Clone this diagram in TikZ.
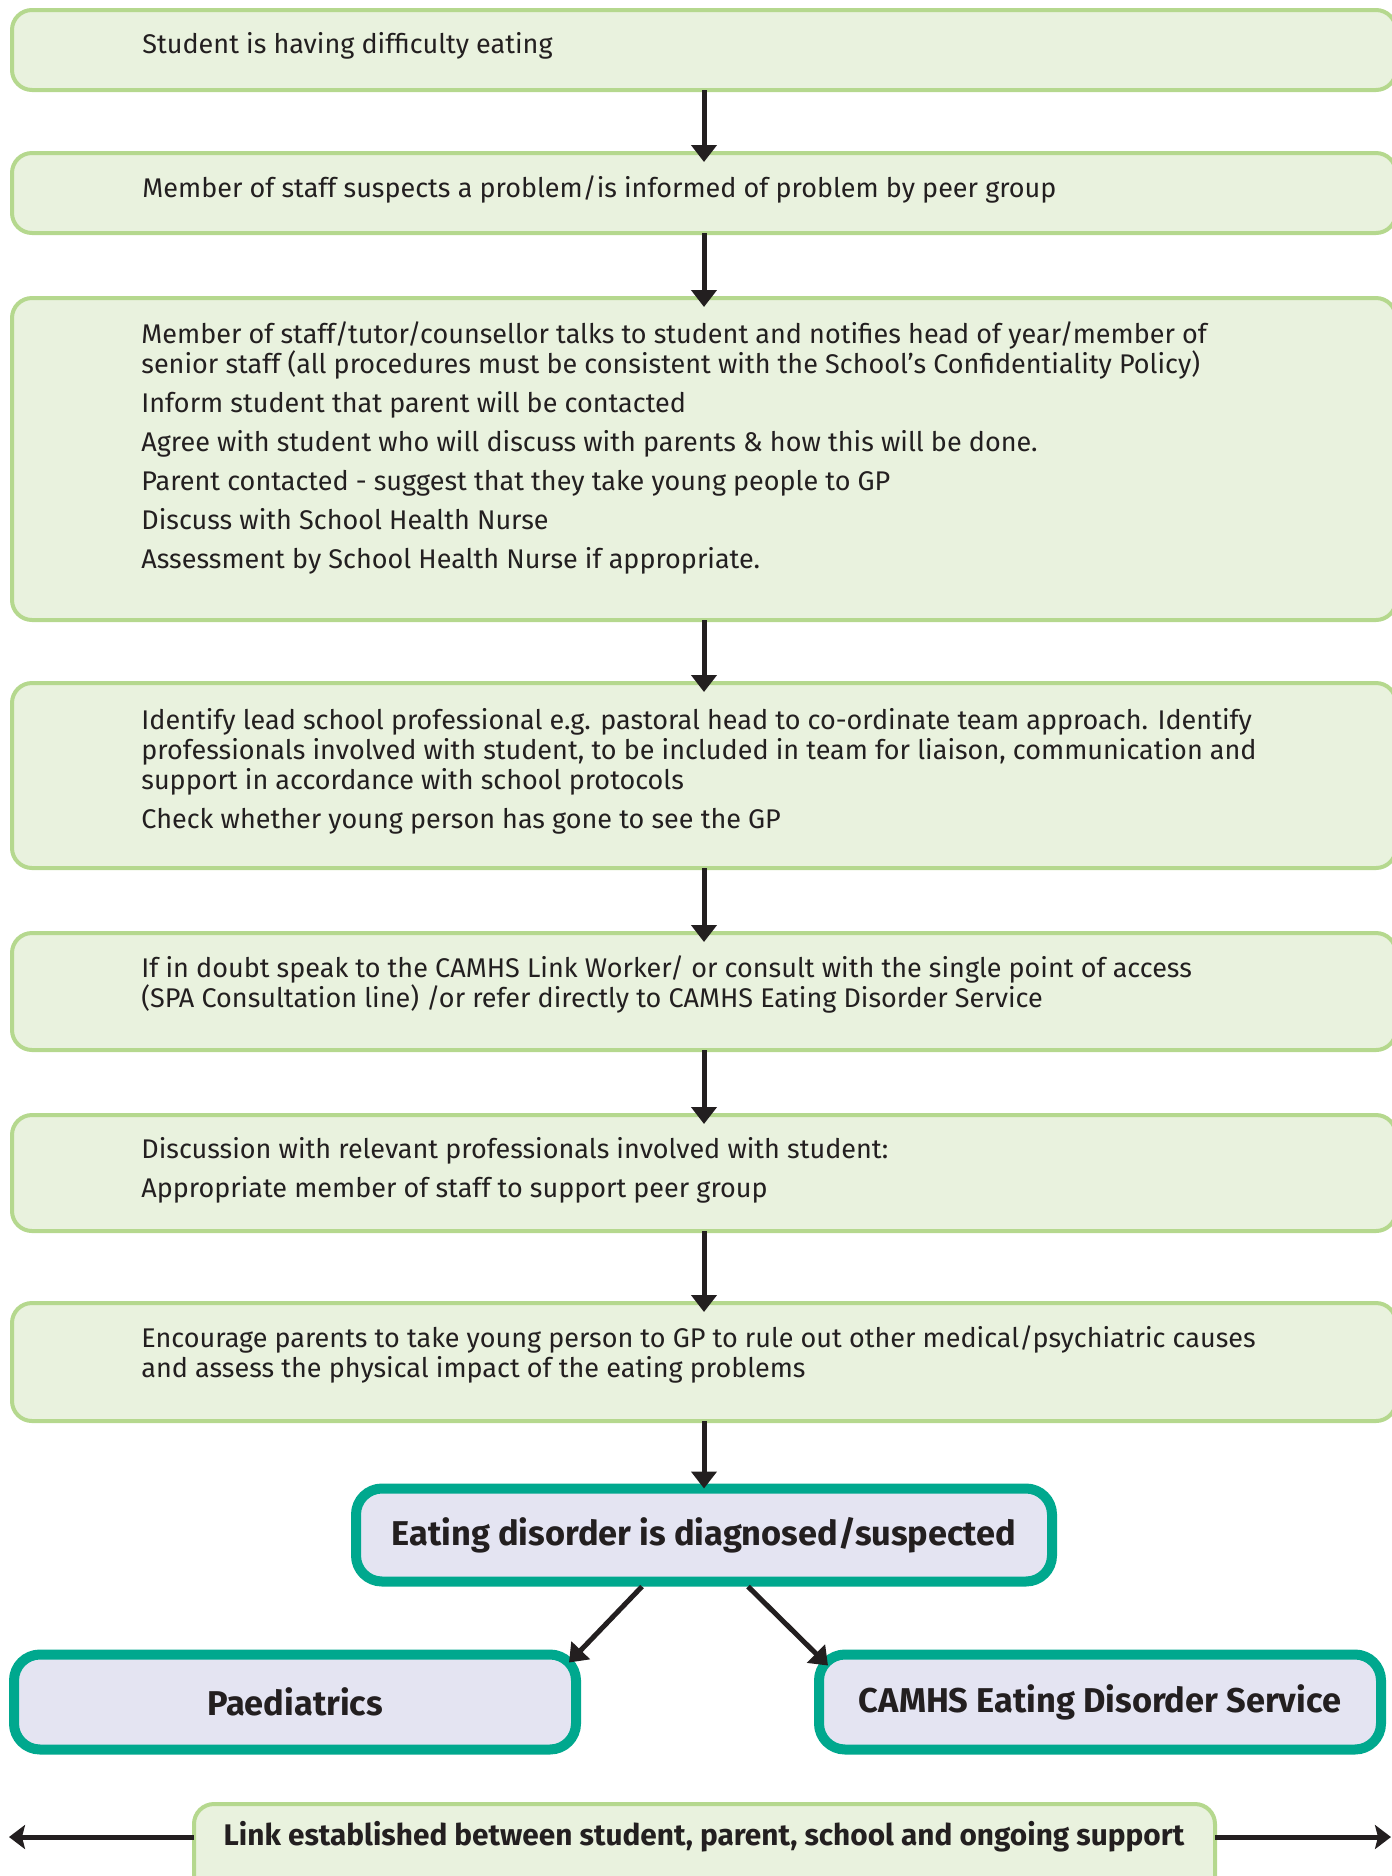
\documentclass[tikz,border=0pt]{standalone}
\usepackage{fontspec}
\setmainfont{Fira Sans}
\usetikzlibrary{positioning}
\usetikzlibrary{arrows.meta,calc}
\definecolor{leafline}{RGB}{181,216,142}
\definecolor{leaffill}{RGB}{233,242,222}
\definecolor{tealline}{RGB}{0,168,142}
\definecolor{lilacfill}{RGB}{228,228,242}
\definecolor{ink}{RGB}{35,31,32}
\tikzstyle{greenbox}=[rectangle,rounded corners=10pt,draw=leafline,fill=leaffill,line width=2pt,minimum width=692pt,anchor=north,inner sep=0pt,outer sep=0pt]
\tikzstyle{tealbox}=[rectangle,rounded corners=13pt,draw=tealline,fill=lilacfill,line width=5pt,inner sep=0pt,outer sep=0pt,text=ink,font=\fontsize{17.2}{20}\selectfont\bfseries]
\tikzstyle{boxtext}=[anchor=base west,align=left,inner sep=0pt,text=ink,font=\fontsize{13.5}{15}\selectfont]
\tikzstyle{linktext}=[inner sep=0pt,text=ink,font=\fontsize{14.9}{16}\selectfont\bfseries]
\tikzstyle{edge}=[draw=ink,line width=2.5pt,-{Triangle[width=12.5pt,length=8.5pt]}]
\tikzstyle{linkedge}=[draw=ink,line width=2.5pt,-{Stealth[width=12pt,length=8pt,inset=1.5pt]}]
\begin{document}
\begin{tikzpicture}[x=0.5pt,y=-0.5pt]
    \useasboundingbox (0,0) rectangle (1392,1876);
    % First the green step boxes
    \foreach \ypos/\name/\high in {10/b1/40, 153/b2/40, 298/b3/161, 683/b4/92.5, 933/b5/58.5, 1115/b6/58, 1303/b7/59}
        \node[greenbox, minimum height=\high pt] (\name) at (704,\ypos) {};

    % Texts of the step boxes (placed at the baseline of their last line)
    \node[boxtext] (t1) at (142,53) {Student is having difficulty eating};
    \node[boxtext] (t2) at (142,197) {Member of staff suspects a problem/is informed of problem by peer group};
    \node[boxtext] (t3) at (141,568) {Member of staff/tutor/counsellor talks to student and notifies head of year/member of\\
        senior staff (all procedures must be consistent with the School’s Confidentiality Policy)\\[4.5pt]
        Inform student that parent will be contacted\\[4.5pt]
        Agree with student who will discuss with parents \& how this will be done.\\[4.5pt]
        Parent contacted - suggest that they take young people to GP\\[4.5pt]
        Discuss with School Health Nurse\\[4.5pt]
        Assessment by School Health Nurse if appropriate.};
    \node[boxtext] (t4) at (141,828) {Identify lead school professional e.g. pastoral head to co-ordinate team approach. Identify\\
        professionals involved with student, to be included in team for liaison, communication and\\
        support in accordance with school protocols\\[4.5pt]
        Check whether young person has gone to see the GP};
    \node[boxtext] (t5) at (141,1007) {If in doubt speak to the CAMHS Link Worker/ or consult with the single point of access\\
        (SPA Consultation line) /or refer directly to CAMHS Eating Disorder Service};
    \node[boxtext] (t6) at (141,1197) {Discussion with relevant professionals involved with student:\\[4.5pt]
        Appropriate member of staff to support peer group};
    \node[boxtext] (t7) at (141,1377) {Encourage parents to take young person to GP to rule out other medical/psychiatric causes\\
        and assess the physical impact of the eating problems};

    % Outcome boxes
    \node[tealbox, minimum width=348pt, minimum height=46.5pt] (dx) at (704,1535) {Eating disorder is diagnosed/suspected};
    \node[tealbox, minimum width=281pt, minimum height=47.5pt] (paed) at (295,1702) {Paediatrics};
    \node[tealbox, minimum width=281pt, minimum height=47.5pt] (camhs) at (1100,1702) {CAMHS Eating Disorder Service};

    % Link box at the foot
    \node[greenbox, minimum width=510.5pt, minimum height=50pt] (link) at (704.5,1804) {};
    \node[linktext] (ltext) at (704,1837) {Link established between student, parent, school and ongoing support};
    \coordinate (lend) at (9,1837);
    \coordinate (rend) at (1391,1837);

    % Connect the boxes
    \foreach \source/\dest in {b1/b2, b2/b3, b3/b4, b4/b5, b5/b6, b6/b7}
        \draw[edge, shorten >=-4.5pt] (\source.south) -- (\dest.north);
    \draw[edge] (b7.south) -- (dx.north);
    \draw[edge] ($(dx.south)+(-62,5)$) -- ($(paed.north east)+(-7,8)$);
    \draw[edge] ($(dx.south)+(44,5)$) -- ($(camhs.north west)+(9,11)$);
    \draw[linkedge] (ltext -| link.west) -- (lend);
    \draw[linkedge] (ltext -| link.east) -- (rend);
\end{tikzpicture}
\end{document}
